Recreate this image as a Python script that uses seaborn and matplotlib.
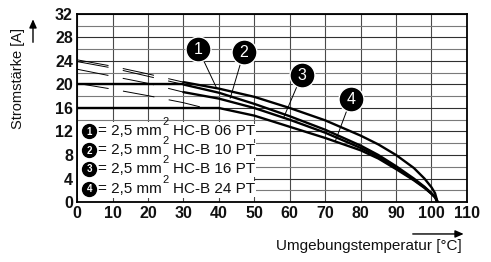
import matplotlib
matplotlib.use("Agg")
import matplotlib.pyplot as plt
import seaborn as sns
from matplotlib.patches import Rectangle, FancyArrowPatch
from matplotlib.transforms import offset_copy

# ---------------- data ----------------
temp_solid = [30, 40, 50, 60, 70, 80, 85, 90, 95, 98, 100, 101, 101.7]
curve1 = [20.4, 19.3, 17.9, 16.0, 13.9, 11.3, 9.8, 8.0, 5.8, 4.0, 2.5, 1.5, 0]
curve2 = [20.0, 18.6, 16.7, 14.6, 12.3, 9.6, 8.0, 6.1, 4.0, 2.6, 1.5, 0.9, 0]
curve3 = [18.7, 17.6, 16.0, 14.0, 11.8, 9.2, 7.7, 5.8, 3.8, 2.5, 1.4, 0.8, 0]
temp_c4 = [40, 50, 60, 70, 80, 85, 90, 95, 98, 100, 101, 101.7]
curve4 = [16.0, 14.7, 12.8, 10.9, 8.8, 7.4, 5.6, 3.7, 2.4, 1.4, 0.8, 0]

temp_ext = [0, 10, 20, 30]
ext1 = [24.2, 23.1, 21.8, 20.4]
ext2 = [23.9, 22.8, 21.4, 20.0]
ext3 = [22.6, 21.4, 20.2, 18.7]
temp_ext4 = [0, 10, 20, 30, 36]
ext4 = [20.2, 19.2, 18.1, 16.9, 16.0]

cap_temp2 = [0, 30]
cap2 = [20, 20]
cap_temp4 = [0, 40]
cap4 = [16, 16]

labels = ["1", "2", "3", "4"]
legend_types = ["HC-B 06 PT", "HC-B 10 PT", "HC-B 16 PT", "HC-B 24 PT"]
legend_prefix = "= 2,5 mm"
legend_sup = "2"
legend_y = [12.0, 8.8, 5.6, 2.2]
marker_pos = [(34.2, 26.0), (47.1, 25.6), (63.4, 21.6), (77.3, 17.5)]
leader_end = [(39.4, 19.35), (43.2, 17.65), (58.2, 14.25), (72.8, 10.26)]

x_ticks = list(range(0, 111, 10))
y_ticks = list(range(0, 33, 4))

# ---------------- style ----------------
sns.set_theme(style="white")
plt.rcParams["font.family"] = ["Liberation Sans", "DejaVu Sans"]
plt.rcParams["lines.scale_dashes"] = False

fig = plt.figure(figsize=(4.91, 2.62), dpi=100)
ax = fig.add_axes([0.157, 0.229, 0.794, 0.7176])

ax.set_xlim(0, 110)
ax.set_ylim(0, 32)

ax.set_xticks(x_ticks)
ax.set_yticks(y_ticks)
ax.set_yticks(list(range(2, 32, 4)), minor=True)
ax.set_axisbelow(True)
ax.grid(True, which="major", axis="x", color="#4a4a4a", lw=0.8)
ax.grid(True, which="major", axis="y", color="#303030", lw=0.8)
ax.grid(True, which="minor", axis="y", color="#7a7a7a", lw=0.8)

ax.tick_params(axis="x", which="major", direction="in", length=3, width=0.8,
               color="k", pad=3, labelsize=11.5)
ax.tick_params(axis="y", which="both", length=0, pad=3, labelsize=11.5)
for lab in ax.get_xticklabels() + ax.get_yticklabels():
    lab.set_fontweight("bold")
    lab.set_color("#111111")

for s in ax.spines.values():
    s.set_color("black")
    s.set_linewidth(1.3)

ax.add_patch(Rectangle((0.3, 0.6), 49.7, 13.0, facecolor="white",
                       edgecolor="none", zorder=1))

thin = dict(color="black", lw=0.7, linestyle=(0, (23.0, 10.5)))
for ye in (ext1, ext2, ext3):
    sns.lineplot(x=temp_ext, y=ye, ax=ax, **thin, zorder=3)
sns.lineplot(x=temp_ext4, y=ext4, ax=ax, **thin, zorder=3)

thick = dict(color="black", lw=1.7, zorder=4)
for yc in (curve1, curve2, curve3):
    sns.lineplot(x=temp_solid, y=yc, ax=ax, **thick)
sns.lineplot(x=temp_c4, y=curve4, ax=ax, **thick)
sns.lineplot(x=cap_temp2, y=cap2, ax=ax, **thick)
sns.lineplot(x=cap_temp4, y=cap4, ax=ax, **thick)

for lab, (mx, my), (ex, ey) in zip(labels, marker_pos, leader_end):
    ax.plot([mx, ex], [my, ey], color="black", lw=0.7, zorder=5)
    ax.plot([mx], [my], marker="o", ms=18, color="black", mec="white",
            mew=1.0, zorder=6, clip_on=False)
    ax.text(mx, my - 0.1, lab, color="white", ha="center", va="center",
            fontsize=11.5, zorder=7)

renderer = fig.canvas.get_renderer()
for lab, typ, yy in zip(labels, legend_types, legend_y):
    ax.plot([3.4], [yy], marker="o", ms=10, color="black", zorder=6)
    ax.text(3.4, yy - 0.05, lab, color="white", ha="center", va="center",
            fontsize=7, fontweight="bold", zorder=7)
    t1 = ax.text(6.0, yy, legend_prefix, ha="left", va="center", fontsize=11,
                 color="#111111", zorder=7)
    bb = t1.get_window_extent(renderer)
    xr, _ = ax.transData.inverted().transform((bb.x1, bb.y1))
    ax.text(xr, yy, legend_sup, ha="left", va="center", fontsize=8,
            color="#111111", zorder=7,
            transform=offset_copy(ax.transData, fig=fig, x=0, y=9.5, units="dots"))
    ax.text(xr + 3.0, yy, typ, ha="left", va="center", fontsize=11,
            color="#111111", zorder=7,
            bbox=dict(facecolor="white", edgecolor="none", pad=0.5))

fig.text(0.037, 0.70, "Stromstärke [A]", rotation=90, ha="center", va="center",
         fontsize=10.5, color="#111111")
fig.add_artist(FancyArrowPatch(
    (0.0672, 0.828), (0.0672, 0.937), transform=fig.transFigure,
    arrowstyle="-|>,head_length=5,head_width=2.2", color="black", lw=1.0,
    mutation_scale=1))
fig.text(0.941, 0.062, "Umgebungstemperatur [°C]", ha="right", va="center",
         fontsize=11, color="#111111")
fig.add_artist(FancyArrowPatch(
    (0.835, 0.107), (0.95, 0.107), transform=fig.transFigure,
    arrowstyle="-|>,head_length=5,head_width=2.2", color="black", lw=1.0,
    mutation_scale=1))

fig.savefig("out.png", dpi=100)
